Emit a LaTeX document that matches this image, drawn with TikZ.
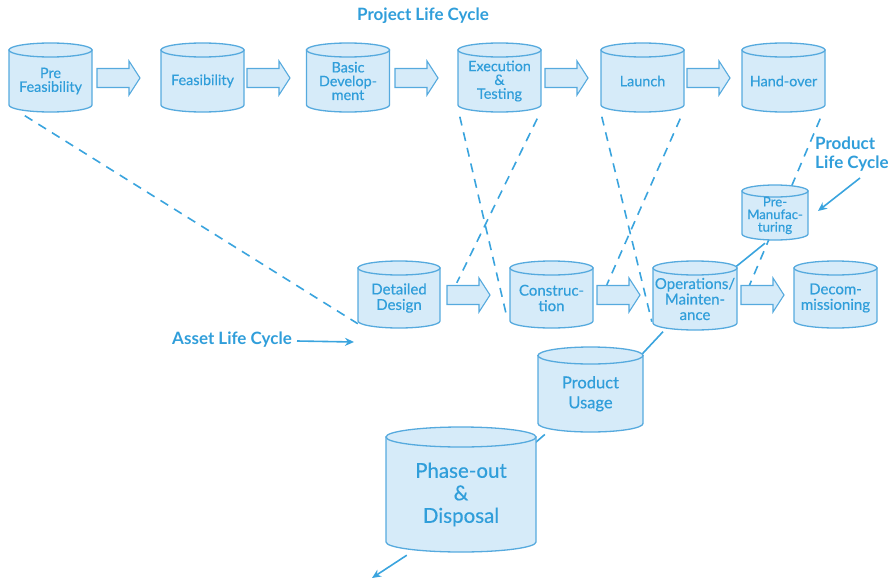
\documentclass[tikz,border=0pt]{standalone}
\usepackage{fontspec}
\setmainfont{Lato}
\newfontfamily\cylfam[FakeBold=0.45]{Lato}
\usetikzlibrary{arrows.meta,positioning}

\definecolor{cylline}{RGB}{86,170,222}
\definecolor{cylfill}{RGB}{214,235,249}
\definecolor{txtblue}{RGB}{48,158,218}
\definecolor{linkblue}{RGB}{58,164,222}

\pgfdeclarelayer{background}
\pgfsetlayers{background,main}

\tikzset{
  cylbody/.style={draw=cylline,fill=cylfill,line width=1.3pt},
  cyltext/.style={align=center,text=txtblue,inner sep=0pt,draw=none},
  blockarr/.style={draw=cylline,fill=cylfill,line width=1.1pt,line join=miter},
  arrowbox/.style={draw=none,inner sep=0pt,minimum width=43pt,minimum height=34pt},
  dashlink/.style={draw=linkblue,line width=1.6pt,dash pattern=on 9pt off 7pt},
  solidlink/.style={draw=linkblue,line width=1.6pt},
  pointer/.style={draw=linkblue,line width=1.6pt,-{Stealth[length=9pt,width=8pt]}},
  caption/.style={text=txtblue,font=\bfseries\fontsize{17}{19}\selectfont,inner sep=0pt},
}

% #1 name, #2 centre x, #3 top y, #4 bottom y, #5 width, #6 end radius, #7 font, #8 label
\newcommand\cyl[8]{%
  \filldraw[cylbody] ({#2-#5/2},{-#3-#6}) -- ({#2-#5/2},{-#4+#6})
     arc[start angle=180,end angle=360,x radius={#5/2},y radius=#6]
     -- ({#2+#5/2},{-#3-#6}) -- cycle;
  \filldraw[cylbody] (#2,{-#3-#6}) ellipse[x radius={#5/2},y radius=#6];
  \node[cyltext,font={\cylfam#7},minimum width={#5*1pt},minimum height={(#4-#3)*1pt}]
     (#1) at (#2,{-(#3+#4)/2-#6/2}) {#8};
}

% #1 name, #2 left x, #3 centre y
\newcommand\blockarrow[3]{%
  \node[arrowbox] (#1) at ({#2+21.5},{-#3}) {};
  \filldraw[blockarr] ({#2},{-#3+9.5}) -- ({#2+32},{-#3+9.5}) -- ({#2+32},{-#3+17})
     -- ({#2+43},{-#3}) -- ({#2+32},{-#3-17}) -- ({#2+32},{-#3-9.5})
     -- ({#2},{-#3-9.5}) -- cycle;
}

\newcommand\topfont{\fontsize{14.4}{13.8}\selectfont}
\newcommand\midfont{\fontsize{15}{15.5}\selectfont}

\begin{document}
\begin{tikzpicture}[x=1pt,y=1pt]
\useasboundingbox (0,0) rectangle (896,-578);

% project life cycle row
\cyl{pf}{50.5}{43}{112}{83}{7}{\topfont}{Pre\\Feasibility}
\cyl{fe}{202.5}{43}{112}{83}{7}{\topfont}{Feasibility}
\cyl{bd}{348}{43}{112}{83}{7}{\topfont}{Basic\\Develop-\\ment}
\cyl{et}{499.5}{43}{112}{83}{7}{\topfont}{Execution\\\&\\Testing}
\cyl{la}{642.5}{43}{112}{83}{7}{\topfont}{Launch}
\cyl{ho}{783.5}{43}{112}{83}{7}{\topfont}{Hand-over}
\blockarrow{ta1}{97}{78}
\blockarrow{ta2}{247}{78}
\blockarrow{ta3}{395}{78}
\blockarrow{ta4}{545}{78}
\blockarrow{ta5}{687}{78}

% asset life cycle row
\cyl{dd}{399}{261}{328}{82}{7}{\midfont}{Detailed\\Design}
\cyl{co}{551.5}{261}{328}{83}{7}{\midfont}{Construc-\\tion}
\cyl{op}{695}{261}{330}{84}{7}{\midfont}{Operations/\\Mainten-\\ance}
\cyl{dc}{835.5}{261}{328}{83}{7}{\midfont}{Decom-\\missioning}
\blockarrow{ma1}{447}{295}
\blockarrow{ma2}{597}{295}
\blockarrow{ma3}{741}{295}

% product life cycle
\cyl{pm}{775}{185}{240}{66}{6}{\fontsize{13.2}{12.6}\selectfont}{Pre-\\Manufac-\\turing}
\cyl{pu}{590.5}{347}{432}{105}{8.5}{\fontsize{16.5}{20}\selectfont}{Product\\Usage}
\cyl{po}{461}{427}{552}{150}{10}{\fontsize{20.5}{22.5}\selectfont}{Phase-out\\\&\\Disposal}

% captions
\node[caption] (plc) at (423,-16) {Project Life Cycle};
\node[caption,align=left,anchor=west] (prlc) at (815,-154) {Product\\Life Cycle};
\node[caption,anchor=east] (alc) at (292,-340) {Asset Life Cycle};
\coordinate (alcend) at (354,-342);
\coordinate (prlcstart) at (860,-178);
\coordinate (prlcend) at (818,-211);
\coordinate (poend) at (372,-578);

\begin{pgfonlayer}{background}
  \draw[dashlink] ([xshift=16pt]pf.south west) -- ([yshift=8pt]dd.south west);
  \draw[dashlink] ([xshift=2pt,yshift=-1pt]et.south west) -- ([xshift=-3pt,yshift=15pt]co.south west);
  \draw[dashlink] ([xshift=-4pt,yshift=-3pt]et.south east) -- ([xshift=10pt,yshift=-5pt]ma1.north west);
  \draw[dashlink] ([xshift=1pt,yshift=-1pt]la.south west) -- ([xshift=-1pt,yshift=12pt]op.south west);
  \draw[dashlink] ([xshift=-4pt,yshift=-3pt]la.south east) -- ([xshift=10pt,yshift=-7pt]ma2.north west);
  \draw[dashlink] ([xshift=-5pt,yshift=-3pt]ho.south east) -- ([xshift=8pt,yshift=-9pt]ma3.north west);
  \draw[solidlink] ([xshift=-10pt]pm.south) -- ([xshift=-2pt,yshift=-3pt]op.north east);
  \draw[solidlink] ([xshift=-32pt,yshift=2pt]op.south) -- ([xshift=-2pt,yshift=-4pt]pu.north east);
  \draw[solidlink] ([xshift=7pt,yshift=2pt]pu.south west) -- ([xshift=-1pt,yshift=-11pt]po.north east);
\end{pgfonlayer}
\draw[pointer] ([xshift=21pt,yshift=2pt]po.south west) -- (poend);
\draw[pointer] ([xshift=5pt,yshift=-1pt]alc.east) -- (alcend);
\draw[pointer] (prlcstart) -- (prlcend);
\end{tikzpicture}
\end{document}
